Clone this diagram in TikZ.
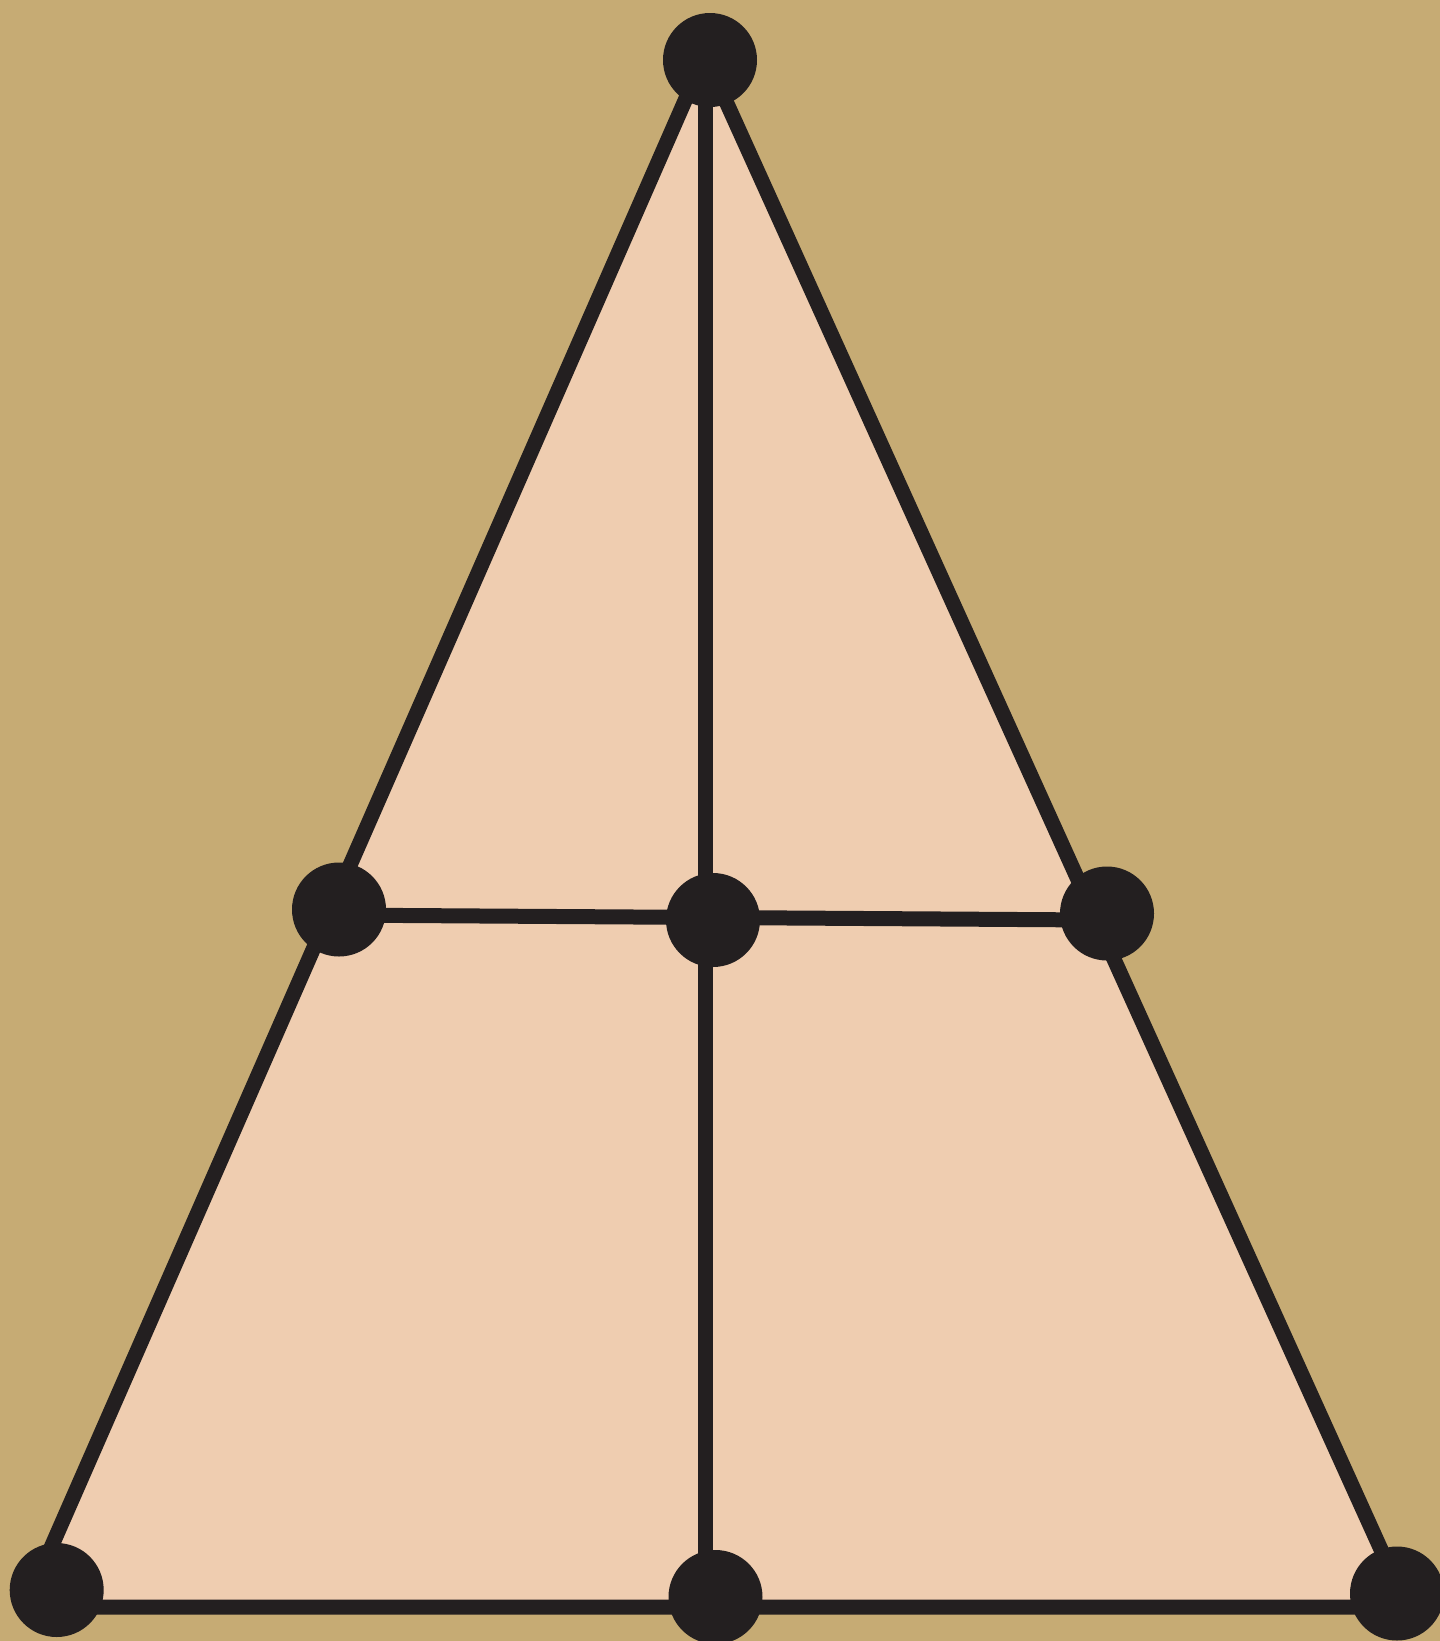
\documentclass[tikz,border=0pt]{standalone}
\definecolor{bgtan}{HTML}{C6AB74}
\definecolor{skin}{HTML}{EFCDB0}
\definecolor{ink}{HTML}{231F20}
\tikzset{
  edge/.style={draw=ink, line width=15pt},
  dot/.style={circle, fill=ink, inner sep=0pt, minimum size=94pt}
}
\begin{document}
\begin{tikzpicture}[x=1pt,y=-1pt]
\fill[bgtan] (0,0) rectangle (1440,1641);
\useasboundingbox (0,0) rectangle (1440,1641);
% triangle corners
\coordinate (A) at (705,55);
\coordinate (BL) at (25,1607);
\coordinate (BR) at (1407,1607);
% inner line ends
\coordinate (ML) at (328,915);
\coordinate (MR) at (1096,920);
\coordinate (VT) at (705.5,60);
\coordinate (VB) at (705.5,1600);
\fill[skin] (A) -- (BR) -- (BL) -- cycle;
\draw[edge] (VT) -- (VB);
\draw[edge] (ML) -- (MR);
\draw[edge, line join=round] (A) -- (BR) -- (BL) -- cycle;
% dots
\node[dot] (top) at (710,60) {};
\node[dot] (midl) at (339,909.5) {};
\node[dot] (mid) at (713,920) {};
\node[dot] (midr) at (1107,913.5) {};
\node[dot] (botl) at (56.7,1590) {};
\node[dot] (botm) at (715.5,1597) {};
\node[dot] (botr) at (1397,1593.5) {};
\end{tikzpicture}
\end{document}
